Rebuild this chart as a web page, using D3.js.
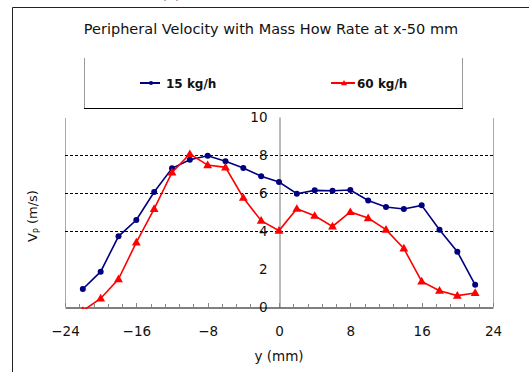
<!DOCTYPE html>
<html>
<head>
<meta charset="utf-8">
<script src="https://cdn.jsdelivr.net/npm/d3@7"></script>
<style>
    body { margin: 0; background: #fff; }
    text { font-family: "DejaVu Sans", sans-serif; }
</style>
</head>
<body>
<div id="wrapper"></div>
<script>
// 1. Access data
const positions = [-22, -20, -18, -16, -14, -12, -10, -8, -6, -4, -2, 0,
    2, 4, 6, 8, 10, 12, 14, 16, 18, 20, 22]
const flow15 = [0.95, 1.86, 3.72, 4.58, 6.05, 7.3, 7.75, 7.96, 7.67, 7.32, 6.88, 6.58,
    5.96, 6.14, 6.12, 6.16, 5.61, 5.26, 5.16, 5.35, 4.07, 2.91, 1.17]
const flow60 = [-0.2, 0.45, 1.47, 3.4, 5.16, 7.08, 8.05, 7.47, 7.35, 5.75, 4.54, 4.02,
    5.17, 4.8, 4.24, 5.0, 4.68, 4.07, 3.08, 1.35, 0.86, 0.6, 0.74]
const xTickValues = [-24, -16, -8, 0, 8, 16, 24]
const yTickValues = [0, 2, 4, 6, 8, 10]
const gridValues = [4, 6, 8]
const seriesNames = ["15 kg/h", "60 kg/h"]

const series = [
    { name: seriesNames[0], values: flow15, color: "#000080", marker: "circle" },
    { name: seriesNames[1], values: flow60, color: "#ff0000", marker: "triangle" },
]
const xAccessor = (d, i) => positions[i]

// 2. Create chart dimensions
const dimensions = {
    width: 529,
    height: 372,
    plot: { left: 65, right: 493, top: 117, bottom: 307 },
}

// 3. Draw canvas
const wrapper = d3.select("#wrapper")
    .append("svg")
    .attr("width", dimensions.width)
    .attr("height", dimensions.height)

// outer frame (cut off at right and bottom)
wrapper.append("path")
    .attr("d", "M12.5,372 V7.5 H529")
    .attr("fill", "none")
    .attr("stroke", "#222")

// caption above the frame, only its lower edge shows
wrapper.append("text")
    .attr("x", 220)
    .attr("y", 0)
    .attr("text-anchor", "middle")
    .style("font-size", "13px")
    .attr("fill", "#777")
    .text("(b) Mass flow rate")

// 4. Create scales
const xScale = d3.scaleLinear()
    .domain([-24, 24])
    .range([dimensions.plot.left, dimensions.plot.right])

const yScale = d3.scaleLinear()
    .domain([0, 10])
    .range([dimensions.plot.bottom, dimensions.plot.top])

// 5. Draw peripherals (behind the data)
wrapper.append("text")
    .attr("x", 271)
    .attr("y", 34)
    .attr("text-anchor", "middle")
    .style("font-size", "14.5px")
    .attr("fill", "#111")
    .text("Peripheral Velocity with Mass How Rate at x-50 mm")

// legend box
const legend = wrapper.append("g")
legend.append("path")
    .attr("d", "M84.5,58 V108.5 H462.5 V58")
    .attr("fill", "none")
    .attr("stroke", "#999")
legend.append("line")
    .attr("x1", 84).attr("x2", 463)
    .attr("y1", 108.5).attr("y2", 108.5)
    .attr("stroke", "#000")

const legendItems = [
    { s: series[0], x: 140, len: 20, gap: 6 },
    { s: series[1], x: 331, len: 24, gap: 2 },
]
legendItems.forEach(item => {
    legend.append("line")
        .attr("x1", item.x).attr("x2", item.x + item.len)
        .attr("y1", 83).attr("y2", 83)
        .attr("stroke", item.s.color)
        .attr("stroke-width", 2)
    drawMarker(legend, item.s, item.x + item.len / 2 + 1, 83, 0.7)
    legend.append("text")
        .attr("x", item.x + item.len + item.gap)
        .attr("y", 87.5)
        .style("font-size", "12px")
        .style("font-weight", "bold")
        .attr("fill", "#111")
        .text(item.s.name)
})

// plot area side borders
const bounds = wrapper.append("g")
bounds.selectAll(".side")
    .data([dimensions.plot.left, dimensions.plot.right])
    .enter()
    .append("line")
    .attr("x1", d => d + 0.5).attr("x2", d => d + 0.5)
    .attr("y1", dimensions.plot.top + 1).attr("y2", dimensions.plot.bottom)
    .attr("stroke", "#aaa")

// gridlines
bounds.selectAll(".grid")
    .data(gridValues)
    .enter()
    .append("line")
    .attr("x1", dimensions.plot.left).attr("x2", dimensions.plot.right)
    .attr("y1", d => Math.round(yScale(d)) + 0.5)
    .attr("y2", d => Math.round(yScale(d)) + 0.5)
    .attr("stroke", "#000")
    .attr("stroke-dasharray", "3,2")

// y axis at x = 0
const yAxisGenerator = d3.axisLeft()
    .scale(yScale)
    .tickValues(yTickValues)
    .tickSize(0)
    .tickPadding(12)

const yAxis = bounds.append("g")
    .attr("transform", `translate(${xScale(0) + 0.5}, 0)`)
    .call(yAxisGenerator)
yAxis.select(".domain").attr("stroke", "#777")
yAxis.selectAll("text")
    .style("font-size", "13.5px")
    .style("font-family", "DejaVu Sans, sans-serif")
    .attr("fill", "#111")

// x axis minor ticks
const minorTicks = d3.range(-24, 24.01, 1.6)
bounds.selectAll(".minor")
    .data(minorTicks)
    .enter()
    .append("line")
    .attr("x1", d => Math.round(xScale(d)) + 0.5)
    .attr("x2", d => Math.round(xScale(d)) + 0.5)
    .attr("y1", dimensions.plot.bottom)
    .attr("y2", d => dimensions.plot.bottom - (Math.abs(d % 8) < 0.01 ? 4 : 3))
    .attr("stroke", "#888")

const xAxisGenerator = d3.axisBottom()
    .scale(xScale)
    .tickValues(xTickValues)
    .tickSize(0)
    .tickPadding(19)
    .tickFormat(d => d < 0 ? "\u2212" + Math.abs(d) : d)

const xAxis = bounds.append("g")
    .attr("transform", `translate(0, ${dimensions.plot.bottom + 0.5})`)
    .call(xAxisGenerator)
xAxis.select(".domain").attr("stroke", "#000")
xAxis.selectAll("text")
    .style("font-size", "13.5px")
    .style("font-family", "DejaVu Sans, sans-serif")
    .attr("fill", "#111")

wrapper.append("text")
    .attr("x", 279)
    .attr("y", 361)
    .attr("text-anchor", "middle")
    .style("font-size", "13.5px")
    .attr("fill", "#111")
    .text("y (mm)")

const yLabel = wrapper.append("text")
    .attr("transform", "translate(37, 216) rotate(-90)")
    .attr("text-anchor", "middle")
    .style("font-size", "13px")
    .attr("fill", "#111")
yLabel.append("tspan").text("V")
yLabel.append("tspan").attr("dy", 3).style("font-size", "8px").text("P")
yLabel.append("tspan").attr("dy", -3).text(" (m/s)")

// 6. Draw data
wrapper.append("clipPath")
    .attr("id", "plot-clip")
    .append("rect")
    .attr("x", dimensions.plot.left)
    .attr("y", dimensions.plot.top - 10)
    .attr("width", dimensions.plot.right - dimensions.plot.left)
    .attr("height", dimensions.plot.bottom - dimensions.plot.top + 12)

const dataGroup = wrapper.append("g")
    .attr("clip-path", "url(#plot-clip)")

const lineGenerator = d3.line()
    .x((d, i) => xScale(xAccessor(d, i)))
    .y(d => yScale(d))

series.forEach(s => {
    dataGroup.append("path")
        .attr("d", lineGenerator(s.values))
        .attr("fill", "none")
        .attr("stroke", s.color)
        .attr("stroke-width", 1.6)
    s.values.forEach((v, i) => {
        drawMarker(dataGroup, s, xScale(positions[i]), yScale(v), 1)
    })
})

function drawMarker(parent, s, x, y, k) {
    if (s.marker === "circle") {
        parent.append("circle")
            .attr("cx", x).attr("cy", y)
            .attr("r", 3 * k)
            .attr("fill", s.color)
    } else {
        const symbol = d3.symbol().type(d3.symbolTriangle).size(34 * k * k)
        parent.append("path")
            .attr("d", symbol())
            .attr("transform", `translate(${x}, ${y + 0.5})`)
            .attr("fill", s.color)
    }
}
</script>
</body>
</html>
